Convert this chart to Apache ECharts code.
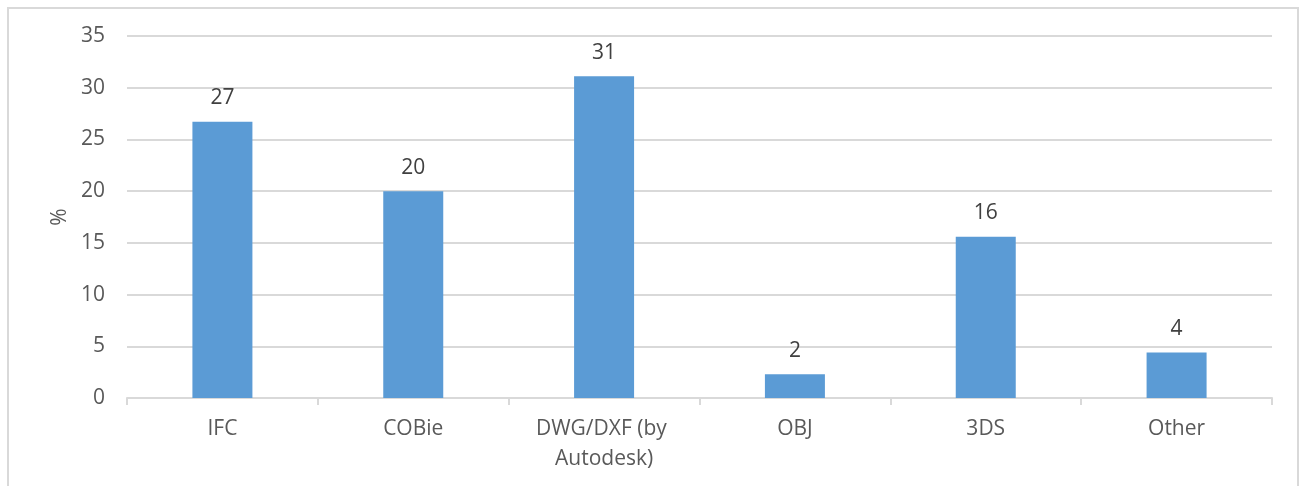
<!DOCTYPE html>
<html>
<head>
<meta charset="utf-8">
<script src="https://cdn.jsdelivr.net/npm/echarts@6/dist/echarts.min.js"></script>
<style>
  html, body { margin: 0; padding: 0; background: #fff; }
  #frame { position: absolute; left: 7px; top: 7px; width: 1292px; height: 500px; border: 2px solid #d9d9d9; box-sizing: border-box; }
  #chart { position: absolute; left: 0; top: 0; width: 1305px; height: 486px; }
</style>
</head>
<body>
<div id="frame"></div>
<div id="chart"></div>
<script>
// File formats used for exchange (% of respondents)
const categories = ['IFC', 'COBie', 'DWG/DXF (by Autodesk)', 'OBJ', '3DS', 'Other'];
const shares = [26.7, 20.0, 31.1, 2.3, 15.6, 4.4];
const yTicks = { min: 0, max: 35, interval: 5 };

const FONT = '"Open Sans", "Liberation Sans", sans-serif';
const TEXT = '#595959';
const LINE = '#d9d9d9';
const FS = 21;

const chart = echarts.init(document.getElementById('chart'), null, { renderer: 'canvas' });
chart.setOption({
  animation: false,
  backgroundColor: 'transparent',
  grid: { left: 127, right: 33, top: 36, bottom: 88, containLabel: false },
  xAxis: {
    type: 'category',
    data: categories,
    axisLine: { lineStyle: { color: LINE, width: 2 } },
    axisTick: { show: true, alignWithLabel: false, length: 7, lineStyle: { color: LINE, width: 2 } },
    axisLabel: {
      color: TEXT, fontFamily: FONT, fontSize: FS, margin: 16,
      width: 180, overflow: 'break', lineHeight: 30, interval: 0
    },
    splitLine: { show: false }
  },
  yAxis: {
    type: 'value',
    min: yTicks.min, max: yTicks.max, interval: yTicks.interval,
    name: '%',
    nameLocation: 'middle',
    nameGap: 56,
    nameRotate: 90,
    nameTextStyle: { color: TEXT, fontFamily: FONT, fontSize: FS },
    axisLine: { show: false },
    axisTick: { show: false },
    axisLabel: { color: TEXT, fontFamily: FONT, fontSize: FS, margin: 22 },
    splitLine: { lineStyle: { color: LINE, width: 2 } }
  },
  series: [{
    type: 'bar',
    data: shares,
    barWidth: 60,
    itemStyle: { color: '#5b9bd5' },
    label: {
      show: true, position: 'top', distance: 13,
      color: '#404040', fontFamily: FONT, fontSize: FS,
      formatter: p => Math.round(p.value)
    }
  }]
});
</script>
</body>
</html>
